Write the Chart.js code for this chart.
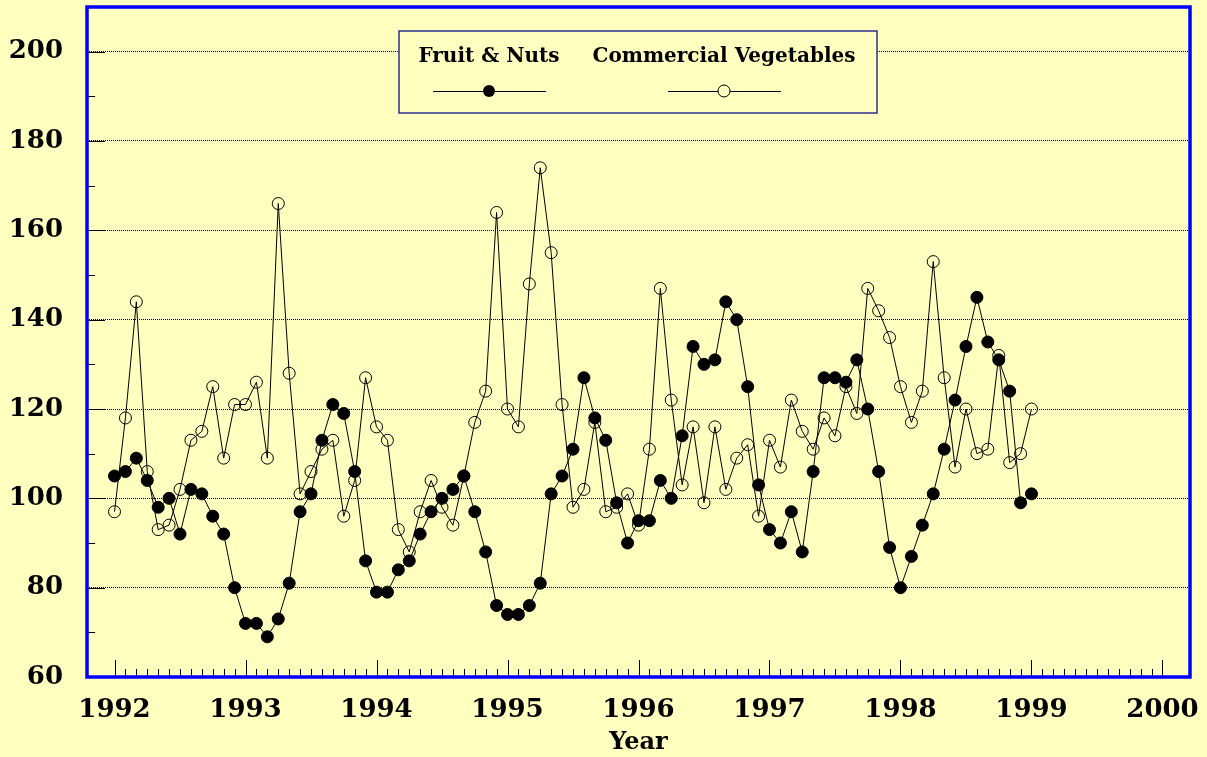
<!DOCTYPE html>
<html>
<head>
<meta charset="utf-8">
<script src="https://cdn.jsdelivr.net/npm/chart.js@4"></script>
<style>
  html, body { margin: 0; padding: 0; background: #ffffc0; }
  canvas { display: block; }
</style>
</head>
<body>
<canvas id="chartID" width="1207" height="757"></canvas>
<script>
// DATOS - indices mensuales, enero 1992 a enero 1999
const startYear = 1992;
const fruitNuts = [
  105, 106, 109, 104, 98, 100, 92, 102, 101, 96, 92, 80,
  72, 72, 69, 73, 81, 97, 101, 113, 121, 119, 106, 86,
  79, 79, 84, 86, 92, 97, 100, 102, 105, 97, 88, 76,
  74, 74, 76, 81, 101, 105, 111, 127, 118, 113, 99, 90,
  95, 95, 104, 100, 114, 134, 130, 131, 144, 140, 125, 103,
  93, 90, 97, 88, 106, 127, 127, 126, 131, 120, 106, 89,
  80, 87, 94, 101, 111, 122, 134, 145, 135, 131, 124, 99,
  101
];
const commercialVeg = [
  97, 118, 144, 106, 93, 94, 102, 113, 115, 125, 109, 121,
  121, 126, 109, 166, 128, 101, 106, 111, 113, 96, 104, 127,
  116, 113, 93, 88, 97, 104, 98, 94, 105, 117, 124, 164,
  120, 116, 148, 174, 155, 121, 98, 102, 117, 97, 98, 101,
  94, 111, 147, 122, 103, 116, 99, 116, 102, 109, 112, 96,
  113, 107, 122, 115, 111, 118, 114, 125, 119, 147, 142, 136,
  125, 117, 124, 153, 127, 107, 120, 110, 111, 132, 108, 110,
  120
];
const seriesNames = ["Fruit & Nuts", "Commercial Vegetables"];
const xTicks = [1992, 1993, 1994, 1995, 1996, 1997, 1998, 1999, 2000];
const yTicks = [60, 80, 100, 120, 140, 160, 180, 200];

const FONT = "'DejaVu Serif', 'Liberation Serif', serif";

// pasa la serie mensual a puntos {x: año decimal, y: valor}
function toPoints(_values) {
  return _values.map((v, i) => ({ x: startYear + i / 12, y: v }));
}

// PLUGIN - fondo, marco azul, ticks hacia adentro y leyenda
const decorPlugin = {
  id: "decor",
  beforeDraw(chart) {
    const ctx = chart.ctx;
    ctx.save();
    ctx.fillStyle = "#ffffc0";
    ctx.fillRect(0, 0, chart.width, chart.height);
    ctx.restore();
  },
  afterDatasetsDraw(chart) {
    const { ctx, chartArea: a, scales } = chart;
    const x = scales.x, y = scales.y;
    ctx.save();
    // ticks
    ctx.strokeStyle = "#000";
    ctx.lineWidth = 1;
    ctx.beginPath();
    for (let v = 70; v <= 200; v += 10) {
      const py = Math.round(y.getPixelForValue(v)) + 0.5;
      const len = v % 20 === 0 ? 18 : 8;
      ctx.moveTo(a.left, py);
      ctx.lineTo(a.left + len, py);
    }
    for (let m = 0; m <= 96; m++) {
      const px = Math.round(x.getPixelForValue(startYear + m / 12)) + 0.5;
      const len = m % 12 === 0 ? 17 : 8;
      ctx.moveTo(px, a.bottom);
      ctx.lineTo(px, a.bottom - len);
    }
    ctx.stroke();

    // marco azul
    ctx.strokeStyle = "#0000ff";
    ctx.lineWidth = 3.5;
    ctx.strokeRect(a.left, a.top, a.right - a.left, a.bottom - a.top);

    // leyenda
    const bx = 399, by = 31, bw = 478, bh = 82;
    ctx.fillStyle = "#ffffc0";
    ctx.fillRect(bx, by, bw, bh);
    ctx.strokeStyle = "#303090";
    ctx.lineWidth = 1.5;
    ctx.strokeRect(bx, by, bw, bh);

    ctx.fillStyle = "#000";
    ctx.font = "bold 20px " + FONT;
    ctx.textAlign = "center";
    ctx.textBaseline = "alphabetic";
    const items = [
      { cx: 489, filled: true },
      { cx: 724, filled: false },
    ];
    items.forEach((it, i) => {
      ctx.fillStyle = "#000";
      ctx.fillText(seriesNames[i], it.cx, 62);
      ctx.beginPath();
      ctx.lineWidth = 1;
      ctx.strokeStyle = "#000";
      ctx.moveTo(it.cx - 56, 91.5);
      ctx.lineTo(it.cx + 57, 91.5);
      ctx.stroke();
      ctx.beginPath();
      ctx.arc(it.cx, 91, 6, 0, Math.PI * 2);
      if (it.filled) {
        ctx.fill();
      } else {
        ctx.fillStyle = "#ffffc0";
        ctx.fill();
        ctx.stroke();
      }
    });
    ctx.restore();
  },
};

const data = {
  datasets: [
    {
      label: seriesNames[0],
      data: toPoints(fruitNuts),
      borderColor: "#000",
      borderWidth: 1,
      backgroundColor: "#000",
      pointBackgroundColor: "#000",
      pointBorderColor: "#000",
      pointRadius: 6,
      pointBorderWidth: 1,
      tension: 0,
    },
    {
      label: seriesNames[1],
      data: toPoints(commercialVeg),
      borderColor: "#000",
      borderWidth: 1,
      backgroundColor: "transparent",
      pointBackgroundColor: "transparent",
      pointBorderColor: "#000",
      pointRadius: 6,
      pointBorderWidth: 1,
      tension: 0,
    },
  ],
};

const config = {
  type: "line",
  data: data,
  options: {
    responsive: false,
    animation: false,
    devicePixelRatio: 1,
    layout: { padding: { top: 5, right: 17, left: 0, bottom: 0 } },
    plugins: {
      legend: { display: false },
      tooltip: { enabled: false },
    },
    scales: {
      x: {
        type: "linear",
        min: 1991.79,
        max: 2000.21,
        afterBuildTicks: (scale) => {
          scale.ticks = xTicks.map((v) => ({ value: v }));
        },
        afterFit: (scale) => {
          scale.height = 80;
          scale.paddingLeft = 0;
          scale.paddingRight = 0;
        },
        grid: { display: false, drawTicks: false },
        border: { display: false },
        ticks: {
          color: "#000",
          padding: 18,
          maxRotation: 0,
          autoSkip: false,
          font: { family: FONT, size: 26, weight: "bold" },
          callback: (v) => String(v),
        },
        title: {
          display: true,
          text: "Year",
          color: "#000",
          padding: 0,
          font: { family: FONT, size: 24, weight: "bold", lineHeight: 1.2 },
        },
      },
      y: {
        type: "linear",
        min: 60,
        max: 210,
        afterBuildTicks: (scale) => {
          scale.ticks = yTicks.map((v) => ({ value: v }));
        },
        afterFit: (scale) => {
          scale.width = 87;
          scale.paddingTop = 0;
          scale.paddingBottom = 0;
        },
        grid: { color: "#000", lineWidth: 1, drawTicks: false },
        border: { display: false, dash: [1, 1] },
        ticks: {
          color: "#000",
          padding: 24,
          autoSkip: false,
          font: { family: FONT, size: 26, weight: "bold" },
          callback: (v) => String(v),
        },
      },
    },
  },
  plugins: [decorPlugin],
};

new Chart(document.getElementById("chartID"), config);
</script>
</body>
</html>
